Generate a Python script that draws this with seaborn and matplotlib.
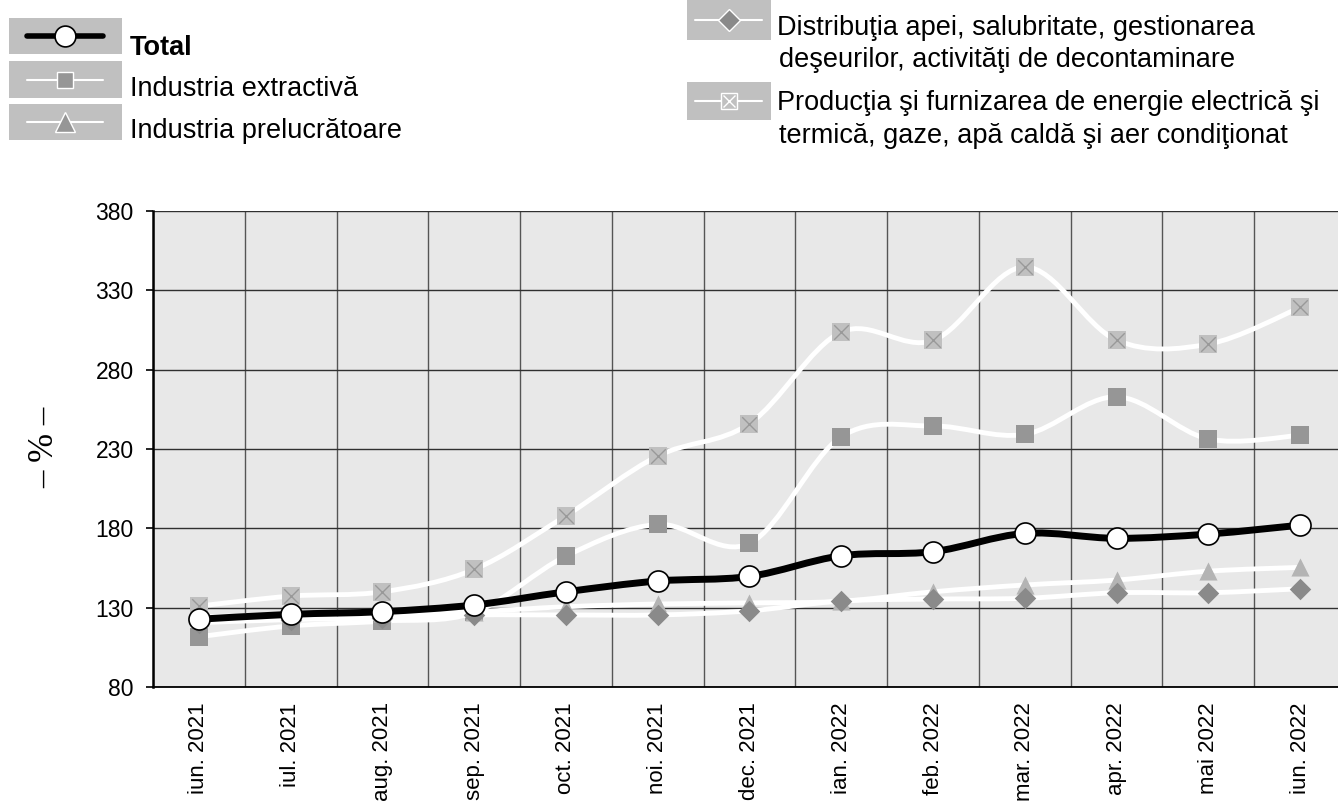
import numpy as np
import pandas as pd
import matplotlib
matplotlib.use('Agg')
import matplotlib.pyplot as plt
import seaborn as sns
from matplotlib.path import Path
from matplotlib.patches import PathPatch, Rectangle
from matplotlib.lines import Line2D

# Data
months = ['iun. 2021', 'iul. 2021', 'aug. 2021', 'sep. 2021', 'oct. 2021',
          'noi. 2021', 'dec. 2021', 'ian. 2022', 'feb. 2022', 'mar. 2022',
          'apr. 2022', 'mai 2022', 'iun. 2022']
total = [122.7, 125.8, 127.5, 131.7, 140.0, 146.8, 149.7, 162.7, 165.3, 176.8, 173.7, 176.4, 182.0]
extractiva = [111.7, 118.5, 121.5, 127.0, 162.5, 182.5, 170.5, 237.7, 244.5, 239.2, 262.9, 236.3, 238.6]
prelucratoare = [124.0, 126.0, 126.5, 127.5, 130.6, 132.3, 133.0, 134.0, 140.0, 144.3, 147.4, 153.0, 155.4]
distributie = [120.5, 122.5, 123.5, 125.4, 125.4, 125.4, 128.0, 134.2, 135.4, 135.9, 139.4, 139.4, 141.9]
energie = [131.0, 137.3, 140.0, 154.1, 188.0, 225.6, 246.0, 303.7, 298.4, 344.8, 298.6, 296.1, 319.2]
yticks = [80, 130, 180, 230, 280, 330, 380]

sns.set_theme(style='white')
plt.rcParams['font.family'] = ['Liberation Sans', 'DejaVu Sans']
plt.rcParams['text.color'] = 'black'
plt.rcParams['xtick.color'] = 'black'
plt.rcParams['ytick.color'] = 'black'
leg_size = 19.5

W, H = 1338, 807
fig = plt.figure(figsize=(W / 100, H / 100), dpi=100)
ax = fig.add_axes([153 / W, 1 - 687 / H, 1193 / W, 476 / H])
ax.set_facecolor('#e8e8e8')

x = np.arange(len(months))
df = pd.DataFrame({'x': x, 'total': total, 'extractiva': extractiva,
                   'prelucratoare': prelucratoare, 'distributie': distributie,
                   'energie': energie})


def smooth_line(col, color, lw, z):
    # Excel-style smoothed line (Catmull-Rom as cubic Bezier) through the points
    pts = df[['x', col]].to_numpy(dtype=float)
    n = len(pts)
    verts = [pts[0]]
    codes = [Path.MOVETO]
    for i in range(n - 1):
        p0 = pts[i - 1] if i > 0 else pts[i]
        p1, p2 = pts[i], pts[i + 1]
        p3 = pts[i + 2] if i + 2 < n else pts[i + 1]
        verts += [p1 + (p2 - p0) / 6, p2 - (p3 - p1) / 6, p2]
        codes += [Path.CURVE4] * 3
    ax.add_patch(PathPatch(Path(verts, codes), fill=False, edgecolor=color,
                           lw=lw, zorder=z, capstyle='round', joinstyle='round'))


# energy (square with cross)
smooth_line('energie', 'white', 3.5, 3)
sns.scatterplot(data=df, x='x', y='energie', marker='s', s=150, color='#c0c0c0',
                linewidth=0, ax=ax, zorder=3.1)
sns.scatterplot(data=df, x='x', y='energie', marker='x', s=110, color='#999999',
                linewidth=1, ax=ax, zorder=3.2)
# extractive
smooth_line('extractiva', 'white', 3.5, 4)
sns.scatterplot(data=df, x='x', y='extractiva', marker='s', s=150, color='#969696',
                linewidth=0, ax=ax, zorder=4.1)
# manufacturing
smooth_line('prelucratoare', 'white', 3.5, 5)
sns.scatterplot(data=df, x='x', y='prelucratoare', marker='^', s=170, color='#b4b4b4',
                linewidth=0, ax=ax, zorder=5.1)
# water / waste
smooth_line('distributie', 'white', 3.5, 6)
sns.scatterplot(data=df, x='x', y='distributie', marker='D', s=120, color='#8a8a8a',
                linewidth=0, ax=ax, zorder=6.1)
# total
smooth_line('total', 'black', 5, 7)
sns.scatterplot(data=df, x='x', y='total', marker='o', s=230, color='white',
                edgecolor='black', linewidth=1.2, ax=ax, zorder=7.1)

ax.set_xlim(-0.5, len(months) - 0.5)
ax.set_ylim(80, 380)
ax.set_yticks(yticks)
ax.set_yticklabels([str(v) for v in yticks], fontsize=16.5)
ax.set_xticks(x)
ax.set_xticklabels(months, rotation=90, fontsize=16)
ax.set_xticks(np.arange(len(months) + 1) - 0.5, minor=True)
ax.tick_params(axis='x', which='major', length=0, pad=11)
ax.tick_params(axis='x', which='minor', length=5, width=1, color='#404040', direction='out')
ax.tick_params(axis='y', which='major', length=5, width=1.2, color='black',
               direction='out', pad=9, left=True)
ax.grid(False)
ax.grid(True, axis='y', which='major', color='#303030', lw=1)
ax.grid(True, axis='x', which='minor', color='#555555', lw=1)
for side in ['top', 'right']:
    ax.spines[side].set_visible(False)
ax.spines['left'].set_color('black')
ax.spines['left'].set_linewidth(1.8)
ax.spines['bottom'].set_color('black')
ax.spines['bottom'].set_linewidth(1.3)
ax.set_xlabel('')
ax.set_ylabel('')
fig.text(45 / W, 1 - 447 / H, '– % –', rotation=90, ha='center', va='center',
         fontsize=25, family='Liberation Serif')


# legend drawn by hand in figure pixels
def fx(px):
    return px / W


def fy(py):
    return 1 - py / H


def legend_box(x0, x1, y0, y1, lx0, lx1, line_color, lw, mk):
    fig.add_artist(Rectangle((fx(x0), fy(y1)), (x1 - x0) / W, (y1 - y0) / H,
                             transform=fig.transFigure, color='#c0c0c0', lw=0))
    yc = fy((y0 + y1) / 2)
    fig.add_artist(Line2D([fx(lx0), fx(lx1)], [yc, yc], transform=fig.transFigure,
                          color=line_color, lw=lw))
    for m in mk:
        fig.add_artist(Line2D([fx((lx0 + lx1) / 2)], [yc], transform=fig.transFigure,
                              linestyle='', **m))


legend_box(9, 122, 18, 54, 27, 103, 'black', 4,
           [dict(marker='o', ms=15, mfc='white', mec='black', mew=1.2)])
legend_box(9, 122, 61, 98, 27, 103, 'white', 1.5,
           [dict(marker='s', ms=11, mfc='#969696', mec='white', mew=1)])
legend_box(9, 122, 104, 140, 27, 103, 'white', 1.5,
           [dict(marker='^', ms=15, mfc='#969696', mec='white', mew=1)])
legend_box(687, 771, 0, 40, 695, 762, 'white', 1.5,
           [dict(marker='D', ms=11, mfc='#8a8a8a', mec='white', mew=1)])
legend_box(687, 771, 82, 120, 695, 762, 'white', 1.5,
           [dict(marker='s', ms=11, mfc='#c0c0c0', mec='white', mew=1),
            dict(marker='x', ms=9, mec='white', mew=1)])

fig.text(fx(130), fy(55), 'Total', fontsize=leg_size, fontweight='bold', va='baseline')
fig.text(fx(130), fy(96), 'Industria extractivă', fontsize=leg_size, va='baseline')
fig.text(fx(130), fy(138), 'Industria prelucrătoare', fontsize=leg_size, va='baseline')
fig.text(fx(777), fy(35), 'Distribuţia apei, salubritate, gestionarea',
         fontsize=leg_size, va='baseline')
fig.text(fx(779), fy(67), 'deşeurilor, activităţi de decontaminare',
         fontsize=leg_size, va='baseline')
fig.text(fx(777), fy(110), 'Producţia şi furnizarea de energie electrică şi',
         fontsize=leg_size, va='baseline')
fig.text(fx(779), fy(143), 'termică, gaze, apă caldă şi aer condiţionat',
         fontsize=leg_size, va='baseline')

fig.savefig('out.png', dpi=100)
